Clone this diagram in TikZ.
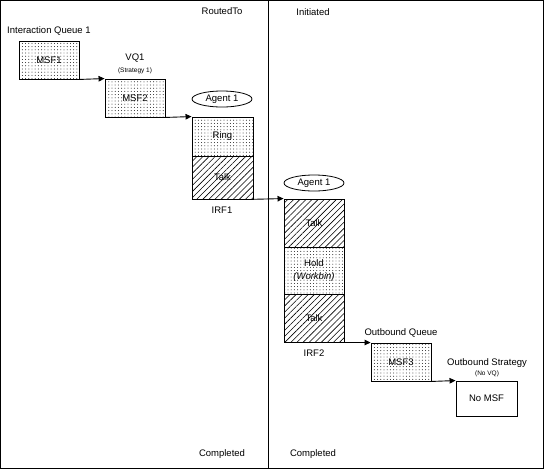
\documentclass[tikz,border=0pt]{standalone}
\usepackage{fontspec}
\setmainfont{Liberation Sans}
\usetikzlibrary{shapes.geometric,patterns.meta,arrows.meta}
\begin{document}
\begin{tikzpicture}[x=1pt,y=-1pt,
  lbl/.style={inner sep=0pt,font=\fontsize{9.5}{11}\selectfont},
  sml/.style={inner sep=0pt,font=\fontsize{6.5}{8}\selectfont},
  dotbox/.style={draw,line width=0.9pt,inner sep=0pt,minimum width=60pt,
    pattern={Dots[distance=3.2pt,radius=0.48pt]},font=\fontsize{9.5}{11}\selectfont},
  hatchbox/.style={draw,line width=0.9pt,inner sep=0pt,minimum width=60pt,
    pattern={Lines[angle=45,distance=4.3pt,line width=0.6pt]},font=\fontsize{9.5}{11}\selectfont},
  plainbox/.style={draw,line width=0.9pt,inner sep=0pt,minimum width=61pt,
    font=\fontsize{9.5}{11}\selectfont},
  agent/.style={draw,ellipse,line width=0.8pt,inner sep=0pt,minimum width=60pt,
    minimum height=16pt,font=\fontsize{9.5}{11}\selectfont},
  flow/.style={line width=0.9pt,-{Triangle[length=6pt,width=5.5pt]}}]
\useasboundingbox (0,0) rectangle (544,469);
\draw[line width=1pt] (0.5,0.5) rectangle (543.5,468.5);
\coordinate (dtop) at (268,0.5);
\coordinate (dbot) at (268,468.5);
\draw[line width=1pt] (dtop) -- (dbot);

\node[lbl] (routed) at (222,11) {RoutedTo};
\node[lbl] (init) at (313,12) {Initiated};
\node[lbl] (comp1) at (222,454) {Completed};
\node[lbl] (comp2) at (313,454) {Completed};

\node[lbl,anchor=west] (iq1) at (7,31) {Interaction Queue 1};
\node[dotbox,minimum height=38pt] (msf1) at (49,60) {MSF1};

\node[lbl] (vq1) at (135,58) {VQ1};
\node[sml] (strat1) at (135,71) {(Strategy 1)};
\node[dotbox,minimum height=38pt] (msf2) at (135,98) {MSF2};

\node[agent] (ag1) at (222,99) {Agent 1};
\node[dotbox,minimum width=61pt,minimum height=39pt] (ring) at (222.5,136.5) {Ring};
\node[hatchbox,minimum width=61pt,minimum height=43pt] (talk1) at (222.5,177.5) {Talk};
\node[lbl] (irf1) at (222,210) {IRF1};

\node[agent] (ag2) at (314,183) {Agent 1};
\node[hatchbox,minimum height=48pt] (talk2) at (314,223) {Talk};
\node[dotbox,minimum height=47pt,align=center] (hold) at (314,270.5) {Hold\\[2pt]\textit{(Workbin)}};
\node[hatchbox,minimum height=48pt] (talk3) at (314,318) {Talk};
\node[lbl] (irf2) at (314,353) {IRF2};

\node[lbl] (obq) at (401,333) {Outbound Queue};
\node[dotbox,minimum height=38pt] (msf3) at (401,362) {MSF3};

\node[lbl] (obs) at (487,363) {Outbound Strategy};
\node[sml] (novq) at (487,374) {(No VQ)};
\node[plainbox,minimum height=35pt] (nomsf) at (486.5,398.5) {No MSF};

\draw[flow] (msf1.south east) -- (msf2.north west);
\draw[flow] (msf2.south east) -- (ring.north west);
\draw[flow] (talk1.south east) -- (talk2.north west);
\draw[flow] (talk3.south east) -- (msf3.north west);
\draw[flow] (msf3.south east) -- (nomsf.north west);
\end{tikzpicture}
\end{document}
